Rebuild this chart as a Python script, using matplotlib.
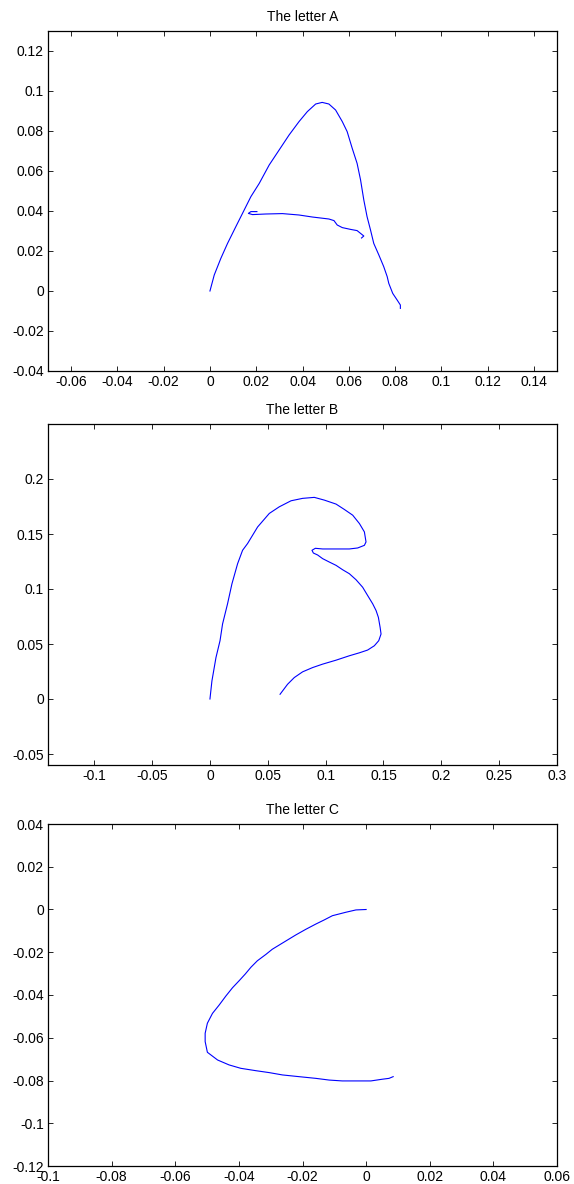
import matplotlib
matplotlib.use("Agg")
import matplotlib.pyplot as plt
from matplotlib.ticker import FuncFormatter
import numpy as np

plt.rcParams['font.family'] = ['Liberation Sans', 'DejaVu Sans']

# letter A: main stroke and crossbar
a_x = [0.0, 0.00185, 0.0047, 0.0076, 0.0112, 0.0148, 0.0177, 0.0213, 0.0256, 0.0299,
       0.0342, 0.0385, 0.0421, 0.0457, 0.0485, 0.0514, 0.0543, 0.0572, 0.0593, 0.0615,
       0.0636, 0.0651, 0.0665, 0.0679, 0.0694, 0.0708, 0.0730, 0.0751, 0.0766, 0.0773,
       0.0790, 0.0809, 0.0823, 0.0823]
a_y = [0.0, 0.008, 0.0163, 0.0238, 0.0322, 0.0405, 0.0472, 0.0538, 0.063, 0.0705,
       0.078, 0.0847, 0.0897, 0.0935, 0.0943, 0.0935, 0.0905, 0.0847, 0.0797, 0.0713,
       0.0638, 0.0555, 0.0455, 0.0372, 0.0305, 0.0238, 0.018, 0.0122, 0.0072, 0.0038,
       -0.0012, -0.0045, -0.007, -0.0087]
bar_x = [0.0203, 0.0177, 0.0166, 0.0184, 0.0241, 0.0313, 0.0385, 0.0442, 0.0514, 0.0536,
         0.055, 0.0572, 0.0608, 0.0636, 0.0651, 0.0665, 0.0655]
bar_y = [0.0397, 0.0397, 0.0388, 0.0382, 0.0385, 0.0387, 0.038, 0.037, 0.036, 0.0352,
         0.033, 0.0317, 0.0308, 0.0302, 0.0288, 0.0275, 0.0265]

# letter B
b_x = [0.0, 0.0017, 0.0052, 0.0087, 0.0109, 0.0152, 0.019, 0.0239, 0.0282, 0.0325,
       0.0412, 0.0513, 0.0599, 0.0701, 0.0801, 0.0902, 0.0989, 0.109, 0.1162, 0.1234,
       0.1292, 0.1335, 0.1349, 0.1335, 0.1277, 0.1205, 0.109, 0.0974, 0.0911, 0.0882,
       0.0894, 0.0931, 0.0974, 0.1032, 0.109, 0.1147, 0.1205, 0.1263, 0.132, 0.1363,
       0.1407, 0.1436, 0.1456, 0.1471, 0.1479, 0.1459, 0.1421, 0.1363, 0.1292, 0.1205,
       0.109, 0.0974, 0.0888, 0.0801, 0.0729, 0.0671, 0.0606]
b_y = [0.0, 0.0164, 0.0377, 0.053, 0.0682, 0.0865, 0.1047, 0.123, 0.1352, 0.1413,
       0.1564, 0.1687, 0.1747, 0.1802, 0.1824, 0.1833, 0.1808, 0.1772, 0.1723, 0.1671,
       0.1595, 0.1519, 0.1428, 0.1397, 0.1373, 0.1364, 0.1364, 0.1364, 0.137, 0.1352,
       0.1327, 0.1309, 0.1276, 0.1245, 0.1215, 0.1175, 0.1139, 0.1084, 0.1016, 0.0941,
       0.0865, 0.0804, 0.0742, 0.0651, 0.0591, 0.053, 0.0484, 0.0445, 0.042, 0.0393,
       0.0353, 0.0317, 0.0286, 0.0247, 0.0195, 0.0134, 0.0043]

# letter C
c_x = [0.0, -0.0032, -0.0064, -0.0106, -0.0132, -0.0158, -0.019, -0.0221, -0.0252, -0.0273,
       -0.0295, -0.0315, -0.0342, -0.0362, -0.038, -0.0399, -0.042, -0.0441, -0.0462, -0.0483,
       -0.0499, -0.0506, -0.0506, -0.0499, -0.0467, -0.0431, -0.0394, -0.0347, -0.0305, -0.0263,
       -0.0211, -0.0158, -0.0116, -0.0075, -0.0032, 0.0015, 0.0051, 0.0072, 0.0085]
c_y = [0.0, -0.0002, -0.0013, -0.0029, -0.0049, -0.0068, -0.0093, -0.0119, -0.0147, -0.0166,
       -0.0186, -0.021, -0.024, -0.027, -0.0302, -0.0333, -0.0366, -0.0405, -0.0447, -0.0486,
       -0.0532, -0.0579, -0.0618, -0.0668, -0.0704, -0.0727, -0.0743, -0.0754, -0.0763, -0.0774,
       -0.0782, -0.079, -0.0798, -0.0802, -0.0802, -0.0802, -0.0794, -0.079, -0.0782]

fmt = FuncFormatter(lambda v, p: "%g" % round(v, 4) if abs(v) > 1e-9 else "0")

fig = plt.figure(figsize=(5.74, 11.84), dpi=100)
W, H = 574.0, 1184.0
left, right = 48, 557

panels = [
    ("The letter A", [(a_x, a_y), (bar_x, bar_y)], (-0.07, 0.15), (-0.04, 0.13),
     np.arange(-0.06, 0.1401, 0.02), np.arange(-0.04, 0.1201, 0.02), 31, 371),
    ("The letter B", [(b_x, b_y)], (-0.14, 0.3), (-0.06, 0.25),
     np.arange(-0.1, 0.301, 0.05), np.arange(-0.05, 0.201, 0.05), 424, 765),
    ("The letter C", [(c_x, c_y)], (-0.1, 0.06), (-0.12, 0.04),
     np.arange(-0.1, 0.0601, 0.02), np.arange(-0.12, 0.0401, 0.02), 824, 1166),
]

for title, strokes, xl, yl, xt, yt, top, bot in panels:
    ax = fig.add_axes([left / W, (H - bot) / H, (right - left) / W, (bot - top) / H])
    for sx, sy in strokes:
        ax.plot(sx, sy, color='#0000ff', linewidth=0.8)
    ax.set_xlim(xl)
    ax.set_ylim(yl)
    ax.set_xticks(xt)
    ax.set_yticks(yt)
    ax.xaxis.set_major_formatter(fmt)
    ax.yaxis.set_major_formatter(fmt)
    ax.tick_params(direction='in', top=True, right=True, length=3.5, width=0.6,
                   labelsize=10, pad=3)
    for s in ax.spines.values():
        s.set_linewidth(0.9)
    ax.set_title(title, fontsize=10, pad=7)

fig.savefig("out.png", dpi=100)
